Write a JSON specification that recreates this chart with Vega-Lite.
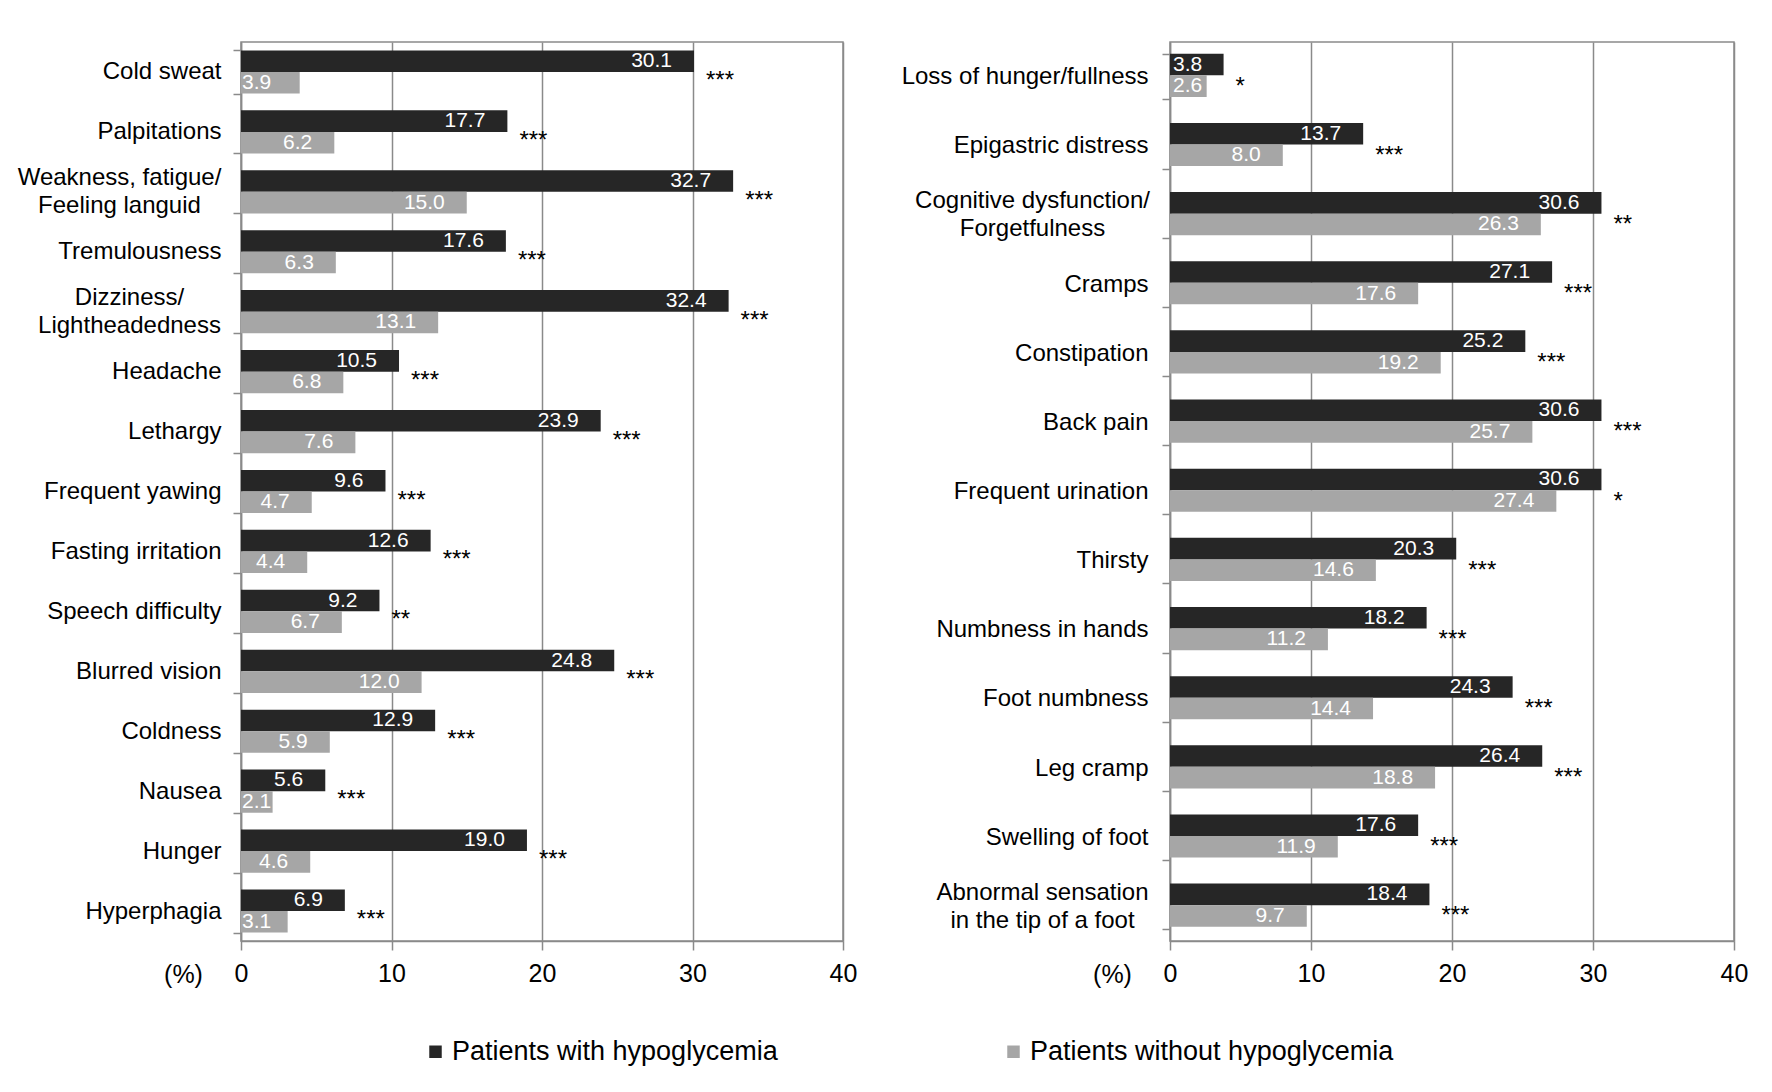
{
  "$schema": "https://vega.github.io/schema/vega-lite/v6.json",
  "background": "white",
  "padding": {"left": 16, "top": 29, "right": 10, "bottom": 10},
  "bounds": "flush",
  "spacing": 327,
  "config": {
    "font": "Liberation Sans",
    "view": {"stroke": "#8a8a8a", "strokeWidth": 1.5},
    "axisX": {
      "grid": true,
      "gridColor": "#8a8a8a",
      "gridWidth": 1.5,
      "domainColor": "#8a8a8a",
      "domainWidth": 1.5,
      "tickColor": "#8a8a8a",
      "tickWidth": 1.5,
      "tickSize": 9,
      "labelFontSize": 25,
      "labelColor": "black",
      "labelPadding": 11,
      "labelFlush": false,
      "titleFontSize": 25,
      "titleFontWeight": "normal",
      "titleColor": "black",
      "titleX": -58,
      "titleY": 33,
      "titleAlign": "center",
      "titleBaseline": "middle"
    },
    "axisY": {
      "grid": false,
      "domainColor": "#8a8a8a",
      "domainWidth": 1.5,
      "tickColor": "#8a8a8a",
      "tickWidth": 1.5,
      "tickSize": 8,
      "tickBand": "extent",
      "labelFontSize": 24,
      "labelColor": "black",
      "labelLimit": 400,
      "labelLineHeight": 28
    },
    "legend": {
      "orient": "none",
      "legendX": 181,
      "legendY": 996,
      "direction": "horizontal",
      "title": null,
      "symbolType": "square",
      "symbolSize": 156,
      "symbolStrokeWidth": 0,
      "labelFontSize": 27,
      "labelColor": "black",
      "labelLimit": 500,
      "labelOffset": 3,
      "columnPadding": 222
    }
  },
  "datasets": {
    "left": [
      {"symptom": "Cold sweat", "group": "Patients with hypoglycemia", "value": 30.1, "sig": "***"},
      {"symptom": "Cold sweat", "group": "Patients without hypoglycemia", "value": 3.9, "sig": "***"},
      {"symptom": "Palpitations", "group": "Patients with hypoglycemia", "value": 17.7, "sig": "***"},
      {"symptom": "Palpitations", "group": "Patients without hypoglycemia", "value": 6.2, "sig": "***"},
      {"symptom": "Weakness, fatigue/Feeling languid", "group": "Patients with hypoglycemia", "value": 32.7, "sig": "***"},
      {"symptom": "Weakness, fatigue/Feeling languid", "group": "Patients without hypoglycemia", "value": 15.0, "sig": "***"},
      {"symptom": "Tremulousness", "group": "Patients with hypoglycemia", "value": 17.6, "sig": "***"},
      {"symptom": "Tremulousness", "group": "Patients without hypoglycemia", "value": 6.3, "sig": "***"},
      {"symptom": "Dizziness/Lightheadedness", "group": "Patients with hypoglycemia", "value": 32.4, "sig": "***"},
      {"symptom": "Dizziness/Lightheadedness", "group": "Patients without hypoglycemia", "value": 13.1, "sig": "***"},
      {"symptom": "Headache", "group": "Patients with hypoglycemia", "value": 10.5, "sig": "***"},
      {"symptom": "Headache", "group": "Patients without hypoglycemia", "value": 6.8, "sig": "***"},
      {"symptom": "Lethargy", "group": "Patients with hypoglycemia", "value": 23.9, "sig": "***"},
      {"symptom": "Lethargy", "group": "Patients without hypoglycemia", "value": 7.6, "sig": "***"},
      {"symptom": "Frequent yawing", "group": "Patients with hypoglycemia", "value": 9.6, "sig": "***"},
      {"symptom": "Frequent yawing", "group": "Patients without hypoglycemia", "value": 4.7, "sig": "***"},
      {"symptom": "Fasting irritation", "group": "Patients with hypoglycemia", "value": 12.6, "sig": "***"},
      {"symptom": "Fasting irritation", "group": "Patients without hypoglycemia", "value": 4.4, "sig": "***"},
      {"symptom": "Speech difficulty", "group": "Patients with hypoglycemia", "value": 9.2, "sig": "**"},
      {"symptom": "Speech difficulty", "group": "Patients without hypoglycemia", "value": 6.7, "sig": "**"},
      {"symptom": "Blurred vision", "group": "Patients with hypoglycemia", "value": 24.8, "sig": "***"},
      {"symptom": "Blurred vision", "group": "Patients without hypoglycemia", "value": 12.0, "sig": "***"},
      {"symptom": "Coldness", "group": "Patients with hypoglycemia", "value": 12.9, "sig": "***"},
      {"symptom": "Coldness", "group": "Patients without hypoglycemia", "value": 5.9, "sig": "***"},
      {"symptom": "Nausea", "group": "Patients with hypoglycemia", "value": 5.6, "sig": "***"},
      {"symptom": "Nausea", "group": "Patients without hypoglycemia", "value": 2.1, "sig": "***"},
      {"symptom": "Hunger", "group": "Patients with hypoglycemia", "value": 19.0, "sig": "***"},
      {"symptom": "Hunger", "group": "Patients without hypoglycemia", "value": 4.6, "sig": "***"},
      {"symptom": "Hyperphagia", "group": "Patients with hypoglycemia", "value": 6.9, "sig": "***"},
      {"symptom": "Hyperphagia", "group": "Patients without hypoglycemia", "value": 3.1, "sig": "***"}
    ],
    "right": [
      {"symptom": "Loss of hunger/fullness", "group": "Patients with hypoglycemia", "value": 3.8, "sig": "*"},
      {"symptom": "Loss of hunger/fullness", "group": "Patients without hypoglycemia", "value": 2.6, "sig": "*"},
      {"symptom": "Epigastric distress", "group": "Patients with hypoglycemia", "value": 13.7, "sig": "***"},
      {"symptom": "Epigastric distress", "group": "Patients without hypoglycemia", "value": 8.0, "sig": "***"},
      {"symptom": "Cognitive dysfunction/Forgetfulness", "group": "Patients with hypoglycemia", "value": 30.6, "sig": "**"},
      {"symptom": "Cognitive dysfunction/Forgetfulness", "group": "Patients without hypoglycemia", "value": 26.3, "sig": "**"},
      {"symptom": "Cramps", "group": "Patients with hypoglycemia", "value": 27.1, "sig": "***"},
      {"symptom": "Cramps", "group": "Patients without hypoglycemia", "value": 17.6, "sig": "***"},
      {"symptom": "Constipation", "group": "Patients with hypoglycemia", "value": 25.2, "sig": "***"},
      {"symptom": "Constipation", "group": "Patients without hypoglycemia", "value": 19.2, "sig": "***"},
      {"symptom": "Back pain", "group": "Patients with hypoglycemia", "value": 30.6, "sig": "***"},
      {"symptom": "Back pain", "group": "Patients without hypoglycemia", "value": 25.7, "sig": "***"},
      {"symptom": "Frequent urination", "group": "Patients with hypoglycemia", "value": 30.6, "sig": "*"},
      {"symptom": "Frequent urination", "group": "Patients without hypoglycemia", "value": 27.4, "sig": "*"},
      {"symptom": "Thirsty", "group": "Patients with hypoglycemia", "value": 20.3, "sig": "***"},
      {"symptom": "Thirsty", "group": "Patients without hypoglycemia", "value": 14.6, "sig": "***"},
      {"symptom": "Numbness in hands", "group": "Patients with hypoglycemia", "value": 18.2, "sig": "***"},
      {"symptom": "Numbness in hands", "group": "Patients without hypoglycemia", "value": 11.2, "sig": "***"},
      {"symptom": "Foot numbness", "group": "Patients with hypoglycemia", "value": 24.3, "sig": "***"},
      {"symptom": "Foot numbness", "group": "Patients without hypoglycemia", "value": 14.4, "sig": "***"},
      {"symptom": "Leg cramp", "group": "Patients with hypoglycemia", "value": 26.4, "sig": "***"},
      {"symptom": "Leg cramp", "group": "Patients without hypoglycemia", "value": 18.8, "sig": "***"},
      {"symptom": "Swelling of foot", "group": "Patients with hypoglycemia", "value": 17.6, "sig": "***"},
      {"symptom": "Swelling of foot", "group": "Patients without hypoglycemia", "value": 11.9, "sig": "***"},
      {"symptom": "Abnormal sensation in the tip of a foot", "group": "Patients with hypoglycemia", "value": 18.4, "sig": "***"},
      {"symptom": "Abnormal sensation in the tip of a foot", "group": "Patients without hypoglycemia", "value": 9.7, "sig": "***"}
    ]
  },
  "resolve": {"scale": {"y": "independent"}},
  "hconcat": [
    {
      "width": 602,
      "height": 899,
      "data": {"name": "left"},
      "encoding": {
        "y": {
          "field": "symptom", "type": "nominal", "sort": null,
          "scale": {"paddingInner": 0.28, "paddingOuter": 0.14},
          "axis": {
            "title": null,
            "labelExpr": "datum.label == 'Weakness, fatigue/Feeling languid' ? ['Weakness, fatigue/', 'Feeling languid'] : datum.label == 'Dizziness/Lightheadedness' ? ['Dizziness/', 'Lightheadedness'] : datum.label",
            "labelAlign": {"condition": {"test": "datum.value == 'Weakness, fatigue/Feeling languid' || datum.value == 'Dizziness/Lightheadedness'", "value": "center"}, "value": "right"},
            "labelPadding": {"expr": "datum.value == 'Weakness, fatigue/Feeling languid' ? 114 : datum.value == 'Dizziness/Lightheadedness' ? 104 : 12"},
            "labelOffset": {"expr": "datum.value == 'Weakness, fatigue/Feeling languid' || datum.value == 'Dizziness/Lightheadedness' ? -14 : 0"}
          }
        },
        "x": {"field": "value", "type": "quantitative", "scale": {"domain": [0, 40], "nice": false}, "axis": {"values": [0, 10, 20, 30, 40], "title": "(%)"}}
      },
      "layer": [
        {
          "mark": {"type": "bar"},
          "encoding": {
            "yOffset": {"field": "group", "type": "nominal", "scale": {"paddingInner": 0, "paddingOuter": 0}},
            "color": {
              "field": "group", "type": "nominal",
              "scale": {"domain": ["Patients with hypoglycemia", "Patients without hypoglycemia"], "range": ["#262626", "#a6a6a6"]}
            }
          }
        },
        {
          "transform": [{"filter": "datum.value >= 4"}],
          "mark": {"type": "text", "align": "right", "baseline": "middle", "dx": -22, "color": "white", "fontSize": 21},
          "encoding": {
            "yOffset": {"field": "group", "type": "nominal"},
            "text": {"field": "value", "type": "quantitative", "format": ".1f"}
          }
        },
        {
          "transform": [{"filter": "datum.value < 4"}],
          "mark": {"type": "text", "align": "left", "baseline": "middle", "dx": 1, "color": "white", "fontSize": 21},
          "encoding": {
            "x": {"datum": 0, "type": "quantitative"},
            "yOffset": {"field": "group", "type": "nominal"},
            "text": {"field": "value", "type": "quantitative", "format": ".1f"}
          }
        },
        {
          "transform": [{"filter": "datum.group == 'Patients with hypoglycemia'"}],
          "mark": {"type": "text", "align": "left", "baseline": "alphabetic", "dx": 12, "dy": 16, "color": "black", "fontSize": 24},
          "encoding": {
            "text": {"field": "sig", "type": "nominal"}
          }
        }
      ]
    },
    {
      "width": 564,
      "height": 899,
      "data": {"name": "right"},
      "encoding": {
        "y": {
          "field": "symptom", "type": "nominal", "sort": null,
          "scale": {"paddingInner": 0.34, "paddingOuter": 0.17},
          "axis": {
            "title": null,
            "labelExpr": "datum.label == 'Cognitive dysfunction/Forgetfulness' ? ['Cognitive dysfunction/', 'Forgetfulness'] : datum.label == 'Abnormal sensation in the tip of a foot' ? ['Abnormal sensation', 'in the tip of a foot'] : datum.label",
            "labelAlign": {"condition": {"test": "datum.value == 'Cognitive dysfunction/Forgetfulness' || datum.value == 'Abnormal sensation in the tip of a foot'", "value": "center"}, "value": "right"},
            "labelPadding": {"expr": "datum.value == 'Cognitive dysfunction/Forgetfulness' ? 130 : datum.value == 'Abnormal sensation in the tip of a foot' ? 120 : 14"},
            "labelOffset": {"expr": "datum.value == 'Cognitive dysfunction/Forgetfulness' || datum.value == 'Abnormal sensation in the tip of a foot' ? -14 : 0"}
          }
        },
        "x": {"field": "value", "type": "quantitative", "scale": {"domain": [0, 40], "nice": false}, "axis": {"values": [0, 10, 20, 30, 40], "title": "(%)"}}
      },
      "layer": [
        {
          "mark": {"type": "bar"},
          "encoding": {
            "yOffset": {"field": "group", "type": "nominal", "scale": {"paddingInner": 0, "paddingOuter": 0}},
            "color": {
              "field": "group", "type": "nominal",
              "scale": {"domain": ["Patients with hypoglycemia", "Patients without hypoglycemia"], "range": ["#262626", "#a6a6a6"]}
            }
          }
        },
        {
          "transform": [{"filter": "datum.value >= 4"}],
          "mark": {"type": "text", "align": "right", "baseline": "middle", "dx": -22, "color": "white", "fontSize": 21},
          "encoding": {
            "yOffset": {"field": "group", "type": "nominal"},
            "text": {"field": "value", "type": "quantitative", "format": ".1f"}
          }
        },
        {
          "transform": [{"filter": "datum.value < 4"}],
          "mark": {"type": "text", "align": "left", "baseline": "middle", "dx": 3, "color": "white", "fontSize": 21},
          "encoding": {
            "x": {"datum": 0, "type": "quantitative"},
            "yOffset": {"field": "group", "type": "nominal"},
            "text": {"field": "value", "type": "quantitative", "format": ".1f"}
          }
        },
        {
          "transform": [{"filter": "datum.group == 'Patients with hypoglycemia'"}],
          "mark": {"type": "text", "align": "left", "baseline": "alphabetic", "dx": 12, "dy": 17, "color": "black", "fontSize": 24},
          "encoding": {
            "text": {"field": "sig", "type": "nominal"}
          }
        }
      ]
    }
  ]
}
